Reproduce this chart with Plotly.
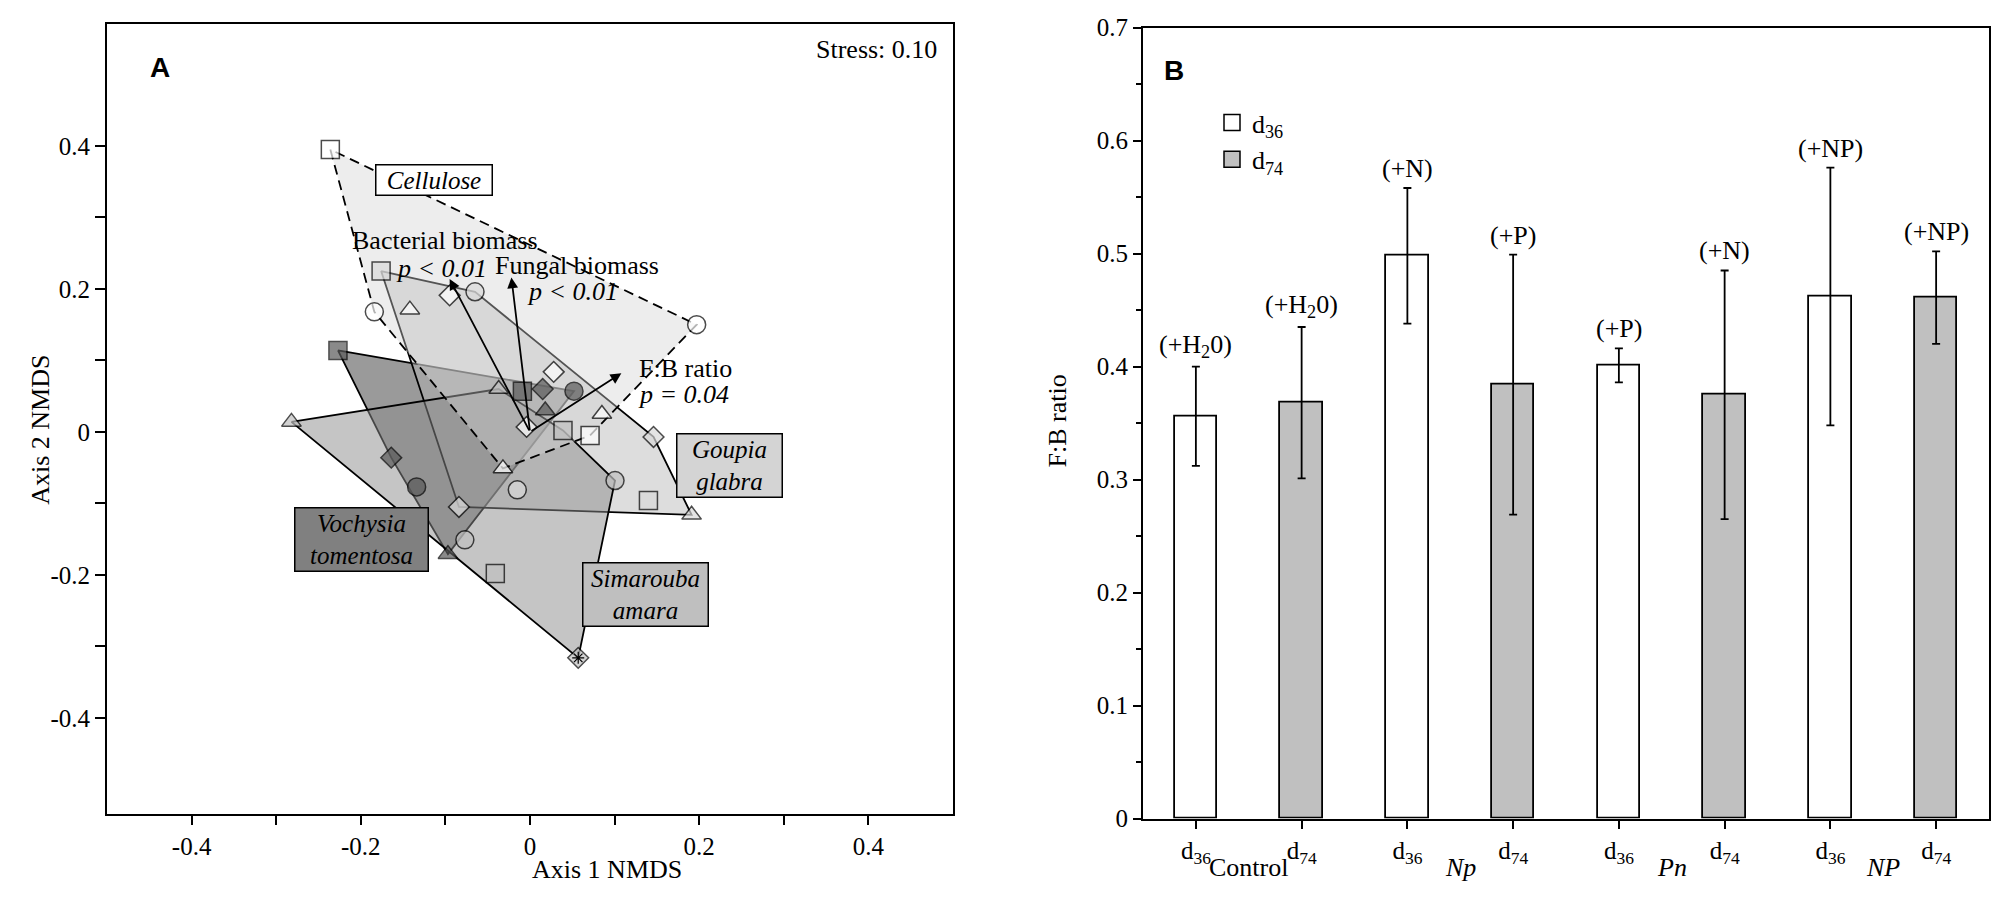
import plotly.graph_objects as go

SERIF = "Liberation Serif"
SANS = "Liberation Sans"

# ---------------- Panel A : NMDS ordination ----------------
cel_x = [-0.236, -0.184, -0.142, -0.095, 0.028, 0.085, 0.071, 0.197, -0.032, -0.004]
cel_y = [0.395, 0.168, 0.171, 0.191, 0.084, 0.025, -0.005, 0.150, -0.051, 0.007]
cel_sym = ["square", "circle", "triangle-up", "diamond", "diamond", "triangle-up",
           "square", "circle", "triangle-up", "diamond"]

gou_x = [-0.176, -0.065, 0.146, 0.191, 0.140, -0.084, -0.015]
gou_y = [0.225, 0.196, -0.007, -0.116, -0.096, -0.105, -0.081]
gou_sym = ["square", "circle", "diamond", "triangle-up", "square", "diamond", "circle"]

sim_x = [-0.282, -0.037, 0.039, 0.1005, -0.041, 0.057, -0.077]
sim_y = [0.014, 0.060, 0.002, -0.068, -0.198, -0.316, -0.151]
sim_sym = ["triangle-up", "triangle-up", "square", "circle", "square", "diamond", "circle"]

voc_x = [-0.227, -0.009, 0.015, -0.164, 0.052, -0.134, 0.018, -0.097]
voc_y = [0.114, 0.057, 0.060, -0.036, 0.057, -0.077, 0.030, -0.171]
voc_sym = ["square", "square", "diamond", "diamond", "circle", "circle",
           "triangle-up", "triangle-up"]

vec_names = ["Bacterial biomass", "Fungal biomass", "F:B ratio"]
vec_x = [-0.095, -0.022, 0.108]
vec_y = [0.214, 0.216, 0.082]
vec_p = ["p &lt; 0.01", "p &lt; 0.01", "p = 0.04"]

stress_text = "Stress: 0.10"

# ---------------- Panel B : F:B ratio bars ----------------
treatments = ["Control", "<i>Np</i>", "<i>Pn</i>", "<i>NP</i>"]
d36_vals = [0.356, 0.498, 0.401, 0.462]
d36_err = [0.044, 0.060, 0.015, 0.114]
d74_vals = [0.368, 0.384, 0.375, 0.461]
d74_err = [0.067, 0.115, 0.110, 0.041]
d36_notes = ["(+H<sub>2</sub>0)", "(+N)", "(+P)", "(+NP)"]
d74_notes = ["(+H<sub>2</sub>0)", "(+P)", "(+N)", "(+NP)"]
day_labels = ["d<sub>36</sub>", "d<sub>74</sub>"]


def convex_hull(xs, ys):
    pts = sorted(set(zip(xs, ys)))

    def cross(o, a, b):
        return (a[0] - o[0]) * (b[1] - o[1]) - (a[1] - o[1]) * (b[0] - o[0])

    lower, upper = [], []
    for p in pts:
        while len(lower) >= 2 and cross(lower[-2], lower[-1], p) <= 0:
            lower.pop()
        lower.append(p)
    for p in reversed(pts):
        while len(upper) >= 2 and cross(upper[-2], upper[-1], p) <= 0:
            upper.pop()
        upper.append(p)
    hull = lower[:-1] + upper[:-1]
    hull.append(hull[0])
    return [p[0] for p in hull], [p[1] for p in hull]


fig = go.Figure()

# hull styles, drawn bottom -> top
groups = [
    dict(x=voc_x, y=voc_y, sym=voc_sym, mcol="#5a5a5a",
         fill="rgba(120,120,120,0.75)", dash="solid"),
    dict(x=gou_x, y=gou_y, sym=gou_sym, mcol="#dadada",
         fill="rgba(180,180,180,0.45)", dash="solid"),
    dict(x=sim_x, y=sim_y, sym=sim_sym, mcol="#c0c0c0",
         fill="rgba(140,140,140,0.5)", dash="solid"),
    dict(x=cel_x, y=cel_y, sym=cel_sym, mcol="#ffffff",
         fill="rgba(210,210,210,0.4)", dash="10px,6px"),
]

for g in groups:
    hx, hy = convex_hull(g["x"], g["y"])
    fig.add_trace(go.Scatter(
        x=hx, y=hy, mode="lines", fill="toself", fillcolor=g["fill"],
        line=dict(color="black", width=1.8, dash=g["dash"]),
        hoverinfo="skip", showlegend=False, xaxis="x", yaxis="y"))

sym_size = {"square": 18, "circle": 18, "diamond": 16, "triangle-up": 17}
for g in [groups[3], groups[1], groups[2], groups[0]]:
    fig.add_trace(go.Scatter(
        x=g["x"], y=g["y"], mode="markers",
        marker=dict(symbol=g["sym"], size=[sym_size[s] for s in g["sym"]],
                    color=g["mcol"], line=dict(color="black", width=1.5)),
        showlegend=False, xaxis="x", yaxis="y"))

# asterisk on the lowest Simarouba sample
fig.add_trace(go.Scatter(
    x=[sim_x[5]], y=[sim_y[5]], mode="markers",
    marker=dict(symbol="asterisk-open", size=10, color="black",
                line=dict(color="black", width=1.2)),
    showlegend=False, xaxis="x", yaxis="y"))

annotations = []
txt_font = dict(family=SERIF, size=26, color="black")
lab_font = dict(family=SERIF, size=25, color="black")

# vectors
for vx, vy in zip(vec_x, vec_y):
    annotations.append(dict(
        x=vx, y=vy, ax=0, ay=0, xref="x", yref="y", axref="x", ayref="y",
        text="", showarrow=True, arrowhead=2, arrowsize=1.2, arrowwidth=1.8,
        arrowcolor="black"))

name_pos = [(-0.100, 0.268), (0.056, 0.233), (0.184, 0.089)]
p_pos = [(-0.105, 0.228), (0.050, 0.196), (0.181, 0.052)]
for name, p, (nx, ny), (px, py) in zip(vec_names, vec_p, name_pos, p_pos):
    annotations.append(dict(x=nx, y=ny, xref="x", yref="y", text=name,
                            showarrow=False, font=txt_font))
    annotations.append(dict(x=px, y=py, xref="x", yref="y", text="<i>" + p + "</i>",
                            showarrow=False, font=txt_font))

species_labels = [
    ("<i>Cellulose</i>", -0.113, 0.352, "#ffffff", 113, 27),
    ("<i>Goupia<br>glabra</i>", 0.236, -0.047, "#d4d4d4", 102, 60),
    ("<i>Simarouba<br>amara</i>", 0.1365, -0.227, "#bfbfbf", 122, 60),
    ("<i>Vochysia<br>tomentosa</i>", -0.199, -0.150, "#808080", 130, 60),
]
for txt, lx, ly, bg, w, h in species_labels:
    annotations.append(dict(x=lx, y=ly, xref="x", yref="y", text=txt, showarrow=False,
                            bgcolor=bg, bordercolor="black", borderwidth=1.5, borderpad=1,
                            width=w, height=h, font=lab_font))

annotations.append(dict(x=0.41, y=0.535, xref="x", yref="y", text=stress_text,
                        showarrow=False, font=txt_font))

# panel letters
annotations.append(dict(x=0.074, y=0.958, xref="paper", yref="paper", text="<b>A</b>",
                        showarrow=False, font=dict(family=SANS, size=28, color="black")))
annotations.append(dict(x=0.587, y=0.955, xref="paper", yref="paper", text="<b>B</b>",
                        showarrow=False, font=dict(family=SANS, size=28, color="black")))

# axis titles
annotations.append(dict(x=0.265, y=0.017, xref="paper", yref="paper", text="Axis 1 NMDS",
                        showarrow=False, font=txt_font))
annotations.append(dict(x=0.012, y=0.53, xref="paper", yref="paper", text="Axis 2 NMDS",
                        textangle=-90, showarrow=False, font=txt_font))
annotations.append(dict(x=0.5285, y=0.54, xref="paper", yref="paper", text="F:B ratio",
                        textangle=-90, showarrow=False, font=txt_font))

# ---------------- Panel B traces ----------------
x36 = [2 * i for i in range(len(treatments))]
x74 = [2 * i + 1 for i in range(len(treatments))]

fig.add_trace(go.Bar(
    x=x36, y=d36_vals, width=0.4,
    marker=dict(color="white", line=dict(color="black", width=1.8)),
    error_y=dict(type="data", array=d36_err, color="black", thickness=1.8, width=4),
    showlegend=False, xaxis="x2", yaxis="y2"))
fig.add_trace(go.Bar(
    x=x74, y=d74_vals, width=0.4,
    marker=dict(color="#c0c0c0", line=dict(color="black", width=1.8)),
    error_y=dict(type="data", array=d74_err, color="black", thickness=1.8, width=4),
    showlegend=False, xaxis="x2", yaxis="y2"))

# legend entries
for lab, col in zip(day_labels, ["white", "#c0c0c0"]):
    fig.add_trace(go.Scatter(
        x=[None], y=[None], mode="markers", name=lab,
        marker=dict(symbol="square", size=16, color=col, line=dict(color="black", width=1.5)),
        xaxis="x2", yaxis="y2"))

for xs, vals, errs, notes in [(x36, d36_vals, d36_err, d36_notes),
                              (x74, d74_vals, d74_err, d74_notes)]:
    for xv, v, e, n in zip(xs, vals, errs, notes):
        annotations.append(dict(x=xv, y=v + e, xref="x2", yref="y2", text=n,
                                showarrow=False, yanchor="bottom", yshift=3,
                                font=txt_font))

for i, t in enumerate(treatments):
    annotations.append(dict(x=2 * i + 0.5, y=0.019, xref="x2", yref="paper", text=t,
                            showarrow=False, font=txt_font))

tick_font = dict(family=SERIF, size=25, color="black")
axis_common = dict(showline=True, linecolor="black", linewidth=2, mirror=True,
                   ticks="outside", tickcolor="black", tickwidth=1.5,
                   showgrid=False, zeroline=False, tickfont=tick_font)

a_ticks = [-0.4, -0.2, 0, 0.2, 0.4]
a_ticktext = ["-0.4", "-0.2", "0", "0.2", "0.4"]
a_minor = [-0.3, -0.1, 0.1, 0.3]

fig.update_layout(
    width=2000, height=915, autosize=False,
    margin=dict(l=0, r=0, t=0, b=0),
    paper_bgcolor="white", plot_bgcolor="rgba(0,0,0,0)",
    bargap=0, barmode="overlay",
    xaxis=dict(domain=[0.0535, 0.4765], range=[-0.5, 0.5], anchor="y",
               tickmode="array", tickvals=a_ticks, ticktext=a_ticktext, ticklen=9,
               minor=dict(tickmode="array", tickvals=a_minor, ticks="outside",
                          ticklen=9, tickwidth=1.5, tickcolor="black"),
               **axis_common),
    yaxis=dict(domain=[0.0975, 0.988], range=[-0.535, 0.571], anchor="x",
               tickmode="array", tickvals=a_ticks, ticktext=a_ticktext, ticklen=10,
               minor=dict(tickmode="array", tickvals=a_minor, ticks="outside",
                          ticklen=10, tickwidth=1.5, tickcolor="black"),
               **axis_common),
    xaxis2=dict(domain=[0.5715, 0.9945], range=[-0.5, 7.5], anchor="y2",
                tickmode="array", tickvals=x36 + x74,
                ticktext=[day_labels[0]] * 4 + [day_labels[1]] * 4, ticklen=8,
                **axis_common),
    yaxis2=dict(domain=[0.0929, 0.9836], range=[0, 0.7], anchor="x2",
                tickmode="linear", tick0=0, dtick=0.1, ticklen=8,
                minor=dict(dtick=0.05, ticks="outside", ticklen=5, tickwidth=1.5,
                           tickcolor="black"),
                **axis_common),
    legend=dict(x=0.606, y=0.903, xanchor="left", yanchor="top",
                bgcolor="rgba(0,0,0,0)", font=txt_font, tracegroupgap=0),
    annotations=annotations,
)

fig.write_html("out.html", config={"displayModeBar": False},
               post_script="document.body.style.margin='0';document.body.style.overflow='hidden';")
